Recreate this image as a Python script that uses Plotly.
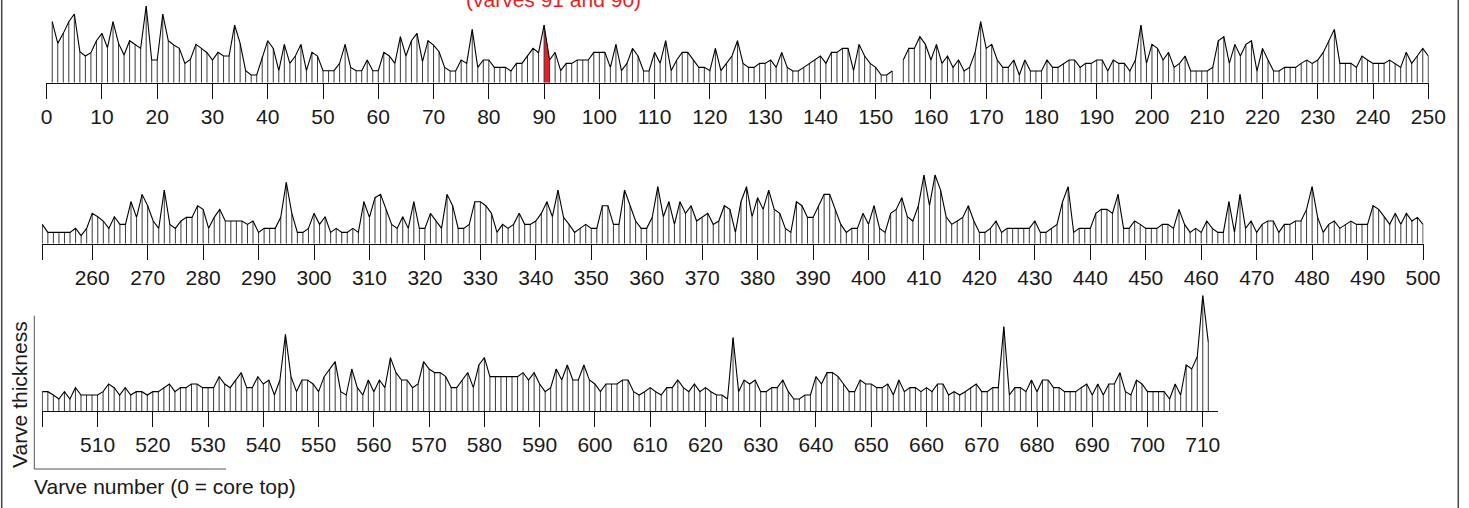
import plotly.graph_objects as go

# ---------------- data (varve thickness, arbitrary units) ----------------
row1_start = 1
row1_values = [
    183, 118, 148, 183, 206, 93, 80, 90, 126, 148,
    105, 183, 118, 83, 126, 115, 103, 230, 68, 68,
    206, 126, 113, 103, 58, 70, 115, 103, 90, 68,
    91, 80, 80, 173, 118, 36, 23, 23, 78, 126,
    103, 36, 115, 58, 80, 115, 36, 91, 80, 36,
    36, 36, 58, 115, 46, 36, 36, 68, 36, 36,
    91, 80, 58, 138, 80, 126, 148, 63, 126, 113,
    93, 46, 35, 35, 68, 58, 160, 46, 68, 68,
    46, 46, 46, 35, 58, 58, 80, 103, 90, 173,
    68, 91, 36, 58, 58, 68, 68, 68, 91, 91,
    91, 46, 115, 36, 58, 103, 80, 35, 35, 91,
    58, 126, 36, 68, 91, 91, 68, 46, 46, 36,
    103, 36, 58, 80, 126, 58, 46, 46, 58, 58,
    68, 46, 91, 46, 35, 35, 46, 58, 68, 80,
    58, 91, 91, 103, 103, 36, 115, 80, 58, 46,
    23, 23, 35, None, 68, 103, 103, 138, 115, 68,
    115, 58, 80, 46, 68, 35, 46, 91, 183, 103,
    115, 68, 46, 46, 68, 23, 68, 35, 35, 35,
    68, 46, 46, 58, 68, 68, 46, 58, 58, 68,
    68, 35, 68, 58, 58, 35, 68, 173, 58, 115,
    103, 68, 91, 46, 58, 80, 35, 35, 35, 35,
    46, 126, 138, 58, 115, 80, 115, 126, 35, 103,
    68, 35, 35, 46, 46, 46, 58, 68, 58, 68,
    91, 126, 160, 58, 58, 58, 46, 80, 68, 58,
    58, 58, 68, 58, 46, 91, 58, 80, 103, 80,
]

row2_start = 251
row2_values = [
    58, 34, 34, 34, 34, 34, 46, 24, 46, 91,
    81, 68, 46, 81, 58, 58, 126, 79, 148, 114,
    68, 46, 161, 58, 46, 68, 79, 79, 114, 103,
    46, 79, 103, 68, 68, 68, 68, 58, 68, 34,
    46, 46, 46, 79, 184, 91, 34, 34, 46, 91,
    58, 81, 34, 46, 34, 34, 46, 34, 126, 79,
    138, 148, 103, 58, 46, 81, 46, 126, 46, 46,
    91, 68, 46, 148, 114, 46, 46, 58, 126, 126,
    114, 91, 34, 58, 46, 58, 91, 58, 58, 68,
    91, 126, 81, 161, 79, 58, 34, 46, 58, 46,
    46, 114, 114, 58, 58, 161, 114, 68, 46, 46,
    79, 171, 81, 126, 58, 126, 91, 114, 68, 79,
    91, 58, 68, 114, 103, 34, 126, 171, 81, 138,
    103, 161, 103, 91, 46, 34, 126, 114, 79, 79,
    114, 148, 148, 103, 58, 34, 46, 46, 91, 58,
    114, 46, 34, 91, 103, 138, 81, 68, 114, 206,
    114, 206, 161, 81, 58, 68, 79, 114, 68, 34,
    34, 46, 68, 34, 46, 46, 46, 46, 46, 68,
    34, 34, 46, 58, 126, 171, 34, 46, 46, 46,
    91, 103, 103, 91, 148, 46, 46, 68, 58, 46,
    46, 46, 58, 58, 46, 103, 58, 34, 46, 34,
    68, 46, 34, 34, 126, 34, 148, 46, 68, 34,
    58, 68, 68, 34, 58, 58, 68, 68, 103, 171,
    79, 34, 58, 68, 46, 58, 68, 58, 58, 58,
    114, 103, 81, 58, 91, 58, 91, 68, 79, 58,
]

row3_start = 500
row3_values = [
    58, 58, 48, 36, 58, 36, 70, 48, 48, 48,
    48, 58, 81, 70, 48, 70, 48, 58, 58, 48,
    58, 58, 70, 81, 58, 70, 70, 81, 81, 70,
    70, 70, 103, 81, 70, 93, 115, 70, 70, 103,
    81, 93, 48, 93, 230, 103, 58, 93, 93, 81,
    58, 103, 126, 148, 58, 48, 126, 70, 48, 93,
    58, 93, 70, 160, 115, 93, 93, 70, 81, 148,
    126, 115, 115, 103, 70, 70, 93, 115, 70, 138,
    160, 103, 103, 103, 103, 103, 103, 115, 93, 115,
    81, 58, 70, 126, 93, 138, 93, 93, 138, 93,
    81, 58, 81, 81, 81, 93, 93, 58, 48, 58,
    70, 58, 48, 70, 70, 93, 70, 58, 81, 58,
    70, 58, 48, 48, 36, 220, 58, 93, 81, 93,
    58, 58, 70, 70, 93, 58, 36, 36, 48, 48,
    103, 81, 115, 115, 103, 81, 58, 58, 93, 81,
    81, 70, 70, 81, 48, 93, 58, 70, 70, 58,
    70, 58, 81, 81, 48, 58, 48, 58, 70, 81,
    58, 58, 70, 70, 253, 48, 70, 70, 58, 93,
    58, 93, 93, 70, 70, 58, 58, 58, 70, 81,
    48, 81, 48, 81, 81, 115, 58, 48, 93, 81,
    58, 58, 58, 58, 36, 81, 48, 138, 126, 163,
    346, 206,
]

highlight_varves = [90, 91]
highlight_label = "(varves 91 and 90)"

row1_ticks = list(range(0, 251, 10))
row2_ticks = [251] + list(range(260, 501, 10))
row3_ticks = [500] + list(range(510, 711, 10))

x_title = "Varve number (0 = core top)"
y_title = "Varve thickness"

# ---------------- layout geometry (pixels) ----------------
W, H = 1469, 508
FONT = "Arial, 'Liberation Sans', Helvetica, sans-serif"
TXT = "#1a1a1a"
FS = 21
UNITS_PER_PX = 3.0


def px(x):
    return x / W


def py(y):
    return 1 - y / H


rows = [
    (row1_values, row1_start, (-0.1, 250.1), (46.7 - 0.55, 1428.3 + 0.55), 82.7, 0.0, row1_ticks, [str(t) for t in row1_ticks]),
    (row2_values, row2_start, (250.9, 500.1), (42.3 - 0.55, 1423.0 + 0.55), 243.7, 150.0, row2_ticks, [""] + [str(t) for t in row2_ticks[1:]]),
    (row3_values, row3_start, (499.9, 712.7), (42.3 - 0.55, 1217.7), 411.0, 280.0, row3_ticks, [""] + [str(t) for t in row3_ticks[1:]]),
]

fig = go.Figure()
layout_axes = {}

for k, (vals, start, xr, xdom, base, top, tv, tt) in enumerate(rows, start=1):
    xs = list(range(start, start + len(vals)))
    sx, sy = [], []
    for x, v in zip(xs, vals):
        if v is None:
            continue
        sx += [x, x, None]
        sy += [0, v, None]
    xa = "x" if k == 1 else f"x{k}"
    ya = "y" if k == 1 else f"y{k}"
    if k == 1:
        hx = [highlight_varves[0], highlight_varves[0], highlight_varves[1], highlight_varves[1]]
        hy = [0, vals[highlight_varves[0] - start], vals[highlight_varves[1] - start], 0]
        fig.add_trace(go.Scatter(x=hx, y=hy, fill="toself", fillcolor="#ec1c24",
                                 line=dict(width=0, color="#ec1c24"), mode="lines",
                                 xaxis=xa, yaxis=ya, showlegend=False, hoverinfo="skip"))
    fig.add_trace(go.Scatter(x=sx, y=sy, mode="lines", line=dict(color="#3a3a3a", width=1),
                             xaxis=xa, yaxis=ya, showlegend=False, hoverinfo="skip"))
    fig.add_trace(go.Scatter(x=xs, y=vals, mode="lines", line=dict(color="#000000", width=1.1),
                             connectgaps=False, xaxis=xa, yaxis=ya, showlegend=False))

    yr_top = (base - top) * UNITS_PER_PX
    xkey = "xaxis" if k == 1 else f"xaxis{k}"
    ykey = "yaxis" if k == 1 else f"yaxis{k}"
    layout_axes[xkey] = dict(
        domain=[px(xdom[0]), px(xdom[1])], range=list(xr), anchor=ya,
        showgrid=False, zeroline=False, showline=True, linecolor="#111", linewidth=1,
        ticks="outside", ticklen=15, tickwidth=1, tickcolor="#111",
        tickmode="array", tickvals=tv, ticktext=tt, automargin=False,
        tickfont=dict(family=FONT, size=FS, color=TXT), ticklabelstandoff=0,
    )
    layout_axes[ykey] = dict(
        domain=[py(base), py(top)], range=[0, yr_top], anchor=xa,
        visible=False, showgrid=False, zeroline=False, automargin=False,
    )

shapes = [
    dict(type="line", xref="paper", yref="paper", x0=px(1.7), x1=px(1.7), y0=0, y1=1,
         line=dict(color="#444", width=1.5)),
    dict(type="line", xref="paper", yref="paper", x0=px(1458.3), x1=px(1458.3), y0=0, y1=1,
         line=dict(color="#444", width=1.5)),
    dict(type="line", xref="paper", yref="paper", x0=px(34.3), x1=px(34.3), y0=py(315.7), y1=py(469),
         line=dict(color="#555", width=1)),
    dict(type="line", xref="paper", yref="paper", x0=px(34.3), x1=px(226), y0=py(469), y1=py(469),
         line=dict(color="#555", width=1)),
]

annotations = [
    dict(text=highlight_label, xref="paper", yref="paper", x=px(553), y=py(-0.5),
         xanchor="center", yanchor="middle", showarrow=False,
         font=dict(family=FONT, size=FS, color="#ec1c24")),
    dict(text=y_title, xref="paper", yref="paper", x=px(19), y=py(395), textangle=-90,
         xanchor="center", yanchor="middle", showarrow=False,
         font=dict(family=FONT, size=FS, color=TXT)),
    dict(text=x_title, xref="paper", yref="paper", x=px(32), y=py(486),
         xanchor="left", yanchor="middle", showarrow=False,
         font=dict(family=FONT, size=FS, color=TXT)),
]

fig.update_layout(
    width=W, height=H, margin=dict(l=0, r=0, t=0, b=0, pad=0, autoexpand=False),
    paper_bgcolor="white", plot_bgcolor="rgba(0,0,0,0)",
    shapes=shapes, annotations=annotations, showlegend=False,
    **layout_axes,
)

fig.write_html(
    "out.html",
    config={"displayModeBar": False},
    post_script="document.body.style.margin='0';document.body.style.overflow='hidden';",
)
